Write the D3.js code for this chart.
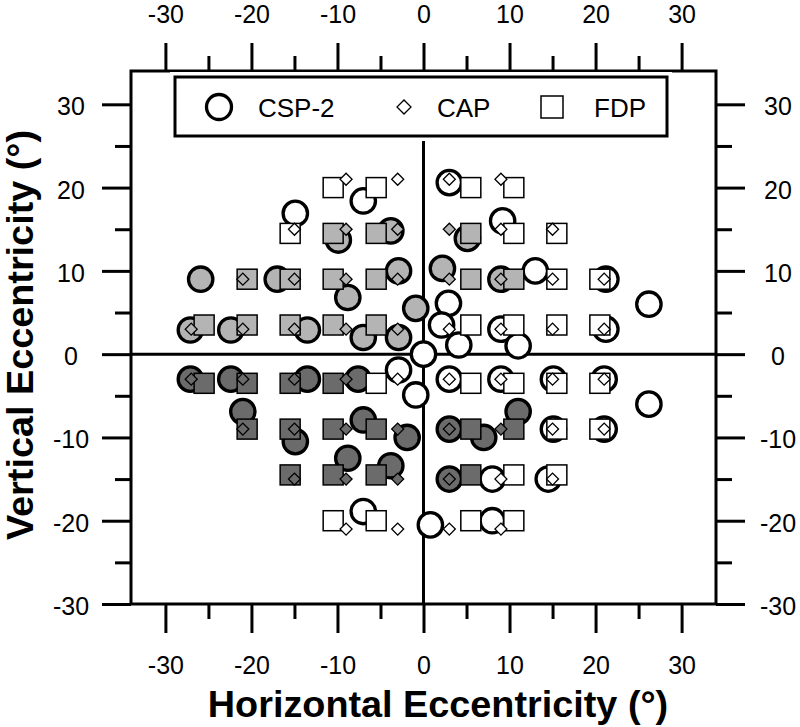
<!DOCTYPE html>
<html>
<head>
<meta charset="utf-8">
<script src="https://cdn.jsdelivr.net/npm/d3@7"></script>
<style>
  body { margin: 0; background: #fff; }
  svg { display: block; font-family: "Liberation Sans", Arial, sans-serif; }
</style>
</head>
<body>
<div id="chart"></div>
<script>
// axis ticks
const majorTicks = [-30, -20, -10, 0, 10, 20, 30];
const minorTicks = [-25, -15, -5, 5, 15, 25];

// fill groups: w = white, l = light grey, d = dark grey
const fillColors = { w: "#ffffff", l: "#b4b4b4", d: "#6b6b6b" };

// CSP-2 (circles): [x, y, fill group]
const cspPoints = [
  [-7, 18.4, "w"], [3, 20.6, "w"], [-14.9, 16.9, "w"], [9.2, 16, "w"],
  [-9.9, 13.7, "l"], [-3.8, 14.8, "l"], [5.1, 13.9, "l"],
  [-25.9, 9, "l"], [-17, 9, "l"], [-8.8, 6.8, "l"], [-2.9, 10, "l"], [2.2, 10.3, "l"], [9, 9, "l"],
  [13, 10, "w"], [21.2, 9, "w"], [-0.9, 5.5, "l"], [26.2, 6, "w"],
  [-27.1, 2.9, "l"], [-22.4, 2.9, "l"], [-13.5, 2.9, "l"], [-7, 2, "l"], [-2.9, 2, "l"],
  [2.9, 6.1, "w"], [2.1, 3.5, "w"], [4.1, 1.1, "w"], [9, 3, "w"], [11, 1, "w"], [21.2, 3, "w"], [0, 0, "w"],
  [-27.1, -3, "d"], [-22.4, -3, "d"], [-13.5, -3, "d"], [-7.6, -3, "d"],
  [-2.9, -1.9, "w"], [-0.9, -4.9, "w"], [3, -3, "w"], [9, -3, "w"], [15.1, -3, "w"], [21, -3, "w"], [26.2, -6, "w"],
  [-21, -6.9, "d"], [-14.9, -10.5, "d"], [-7, -7.9, "d"], [-1.9, -10, "d"], [3, -9, "d"], [7, -10, "d"], [11, -6.9, "d"],
  [15.1, -9, "w"], [21, -9, "w"],
  [-8.8, -12.5, "d"], [-3.8, -13.4, "d"], [3, -15, "d"], [8, -15, "w"], [14.5, -15, "w"],
  [-7, -18.9, "w"], [0.8, -20.5, "w"], [8, -20, "w"]
];

// CAP (diamonds)
const capPoints = [
  [-9, 21, "w"], [-3, 21, "w"], [3, 21, "w"], [9, 21, "w"],
  [-15, 15, "w"], [-9, 15, "l"], [-3, 15, "l"], [3, 15, "l"], [9, 15, "w"], [15, 15, "w"],
  [-21, 9, "l"], [-15, 9, "l"], [-9, 9, "l"], [-3, 9, "l"], [3, 9, "l"], [9, 9, "l"], [15, 9, "w"], [21, 9, "w"],
  [-27, 3, "l"], [-21, 3, "l"], [-15, 3, "l"], [-9, 3, "l"], [-3, 3, "l"], [3, 3, "w"], [9, 3, "w"], [15, 3, "w"], [21, 3, "w"],
  [-27, -3, "d"], [-21, -3, "d"], [-15, -3, "d"], [-9, -3, "d"], [-3, -3, "w"], [3, -3, "w"], [9, -3, "w"], [15, -3, "w"], [21, -3, "w"],
  [-21, -9, "d"], [-15, -9, "d"], [-9, -9, "d"], [-3, -9, "d"], [3, -9, "d"], [9, -9, "d"], [15, -9, "w"], [21, -9, "w"],
  [-15, -15, "d"], [-9, -15, "d"], [-3, -15, "d"], [3, -15, "d"], [9, -15, "w"], [15, -15, "w"],
  [-9, -21, "w"], [-3, -21, "w"], [3, -21, "w"], [9, -21, "w"]
];

// FDP (squares)
const fdpPoints = [
  [-10.5, 20, "w"], [-5.5, 20, "w"], [5.5, 20, "w"], [10.5, 20, "w"],
  [-15.5, 14.5, "w"], [-10.5, 14.5, "l"], [-5.5, 14.5, "l"], [5.5, 14.5, "l"], [10.5, 14.5, "w"], [15.5, 14.5, "w"],
  [-20.5, 9, "l"], [-15.5, 9, "l"], [-10.5, 9, "l"], [-5.5, 9, "l"], [5.5, 9, "l"], [10.5, 9, "l"], [15.5, 9, "w"], [20.5, 9, "w"],
  [-25.5, 3.5, "l"], [-20.5, 3.5, "l"], [-15.5, 3.5, "l"], [-10.5, 3.5, "l"], [-5.5, 3.5, "l"],
  [5.5, 3.5, "w"], [10.5, 3.5, "w"], [15.5, 3.5, "w"], [20.5, 3.5, "w"],
  [-25.5, -3.5, "d"], [-20.5, -3.5, "d"], [-15.5, -3.5, "d"], [-10.5, -3.5, "d"],
  [-5.5, -3.5, "w"], [5.5, -3.5, "w"], [10.5, -3.5, "w"], [15.5, -3.5, "w"], [20.5, -3.5, "w"],
  [-20.5, -9, "d"], [-15.5, -9, "d"], [-10.5, -9, "d"], [-5.5, -9, "d"], [5.5, -9, "d"], [10.5, -9, "d"], [15.5, -9, "w"], [20.5, -9, "w"],
  [-15.5, -14.5, "d"], [-10.5, -14.5, "d"], [-5.5, -14.5, "d"], [5.5, -14.5, "d"], [10.5, -14.5, "w"], [15.5, -14.5, "w"],
  [-10.5, -20, "w"], [-5.5, -20, "w"], [5.5, -20, "w"], [10.5, -20, "w"]
];

const legendLabels = ["CSP-2", "CAP", "FDP"];

const width = 800, height = 727;
const plotLeft = 131, plotRight = 716, plotTop = 71, plotBottom = 604;

let svg = d3.select("#chart").append("svg")
    .attr("width", width)
    .attr("height", height);

let x = d3.scaleLinear().domain([-34, 34]).range([plotLeft, plotRight]);
let y = d3.scaleLinear().domain([-30, 34]).range([plotBottom, plotTop]);

// plain hyphen for negatives, like the original
let fmt = d => String(d);

// axes, major ticks with labels + minor ticks without
function styleAxis(g) {
    g.select(".domain").remove();
    g.selectAll("line").attr("stroke", "#000").attr("stroke-width", 3);
    g.selectAll("text").attr("fill", "#000").style("font-size", "25px");
}

svg.append("g").attr("transform", `translate(0,${plotTop})`)
    .call(d3.axisTop(x).tickValues(majorTicks).tickSize(28).tickPadding(20).tickFormat(fmt))
    .call(styleAxis);
svg.append("g").attr("transform", `translate(0,${plotTop})`)
    .call(d3.axisTop(x).tickValues(minorTicks).tickSize(15).tickFormat(""))
    .call(styleAxis);

svg.append("g").attr("transform", `translate(0,${plotBottom})`)
    .call(d3.axisBottom(x).tickValues(majorTicks).tickSize(29).tickPadding(23).tickFormat(fmt))
    .call(styleAxis);
svg.append("g").attr("transform", `translate(0,${plotBottom})`)
    .call(d3.axisBottom(x).tickValues(minorTicks).tickSize(15).tickFormat(""))
    .call(styleAxis);

let yl = svg.append("g").attr("transform", `translate(${plotLeft},0)`)
    .call(d3.axisLeft(y).tickValues(majorTicks).tickSize(29).tickFormat(fmt))
    .call(styleAxis);
yl.selectAll("text").attr("x", -60).attr("text-anchor", "middle").attr("dy", "0.42em");
svg.append("g").attr("transform", `translate(${plotLeft},0)`)
    .call(d3.axisLeft(y).tickValues(minorTicks).tickSize(16).tickFormat(""))
    .call(styleAxis);

let yr = svg.append("g").attr("transform", `translate(${plotRight},0)`)
    .call(d3.axisRight(y).tickValues(majorTicks).tickSize(29).tickFormat(fmt))
    .call(styleAxis);
yr.selectAll("text").attr("x", 62).attr("text-anchor", "middle").attr("dy", "0.42em");
svg.append("g").attr("transform", `translate(${plotRight},0)`)
    .call(d3.axisRight(y).tickValues(minorTicks).tickSize(16).tickFormat(""))
    .call(styleAxis);

// frame
svg.append("rect")
    .attr("x", plotLeft).attr("y", plotTop)
    .attr("width", plotRight - plotLeft).attr("height", plotBottom - plotTop)
    .attr("fill", "none").attr("stroke", "#000").attr("stroke-width", 3);

// zero lines
svg.append("line")
    .attr("x1", plotLeft).attr("x2", plotRight)
    .attr("y1", y(0)).attr("y2", y(0))
    .attr("stroke", "#000").attr("stroke-width", 3);
svg.append("line")
    .attr("x1", x(0)).attr("x2", x(0))
    .attr("y1", plotTop).attr("y2", plotBottom)
    .attr("stroke", "#000").attr("stroke-width", 3);

// markers: circles, then squares, then diamonds
svg.append("g").selectAll("circle")
    .data(cspPoints)
    .enter().append("circle")
    .attr("cx", d => x(d[0]))
    .attr("cy", d => y(d[1]))
    .attr("r", 12.2)
    .attr("fill", d => fillColors[d[2]])
    .attr("stroke", "#000")
    .attr("stroke-width", 3.3);

let sq = 20;
svg.append("g").selectAll("rect")
    .data(fdpPoints)
    .enter().append("rect")
    .attr("x", d => x(d[0]) - sq / 2)
    .attr("y", d => y(d[1]) - sq / 2)
    .attr("width", sq).attr("height", sq)
    .attr("fill", d => fillColors[d[2]])
    .attr("stroke", "#000")
    .attr("stroke-width", 1.5);

let diamond = d3.symbol().type(d3.symbolSquare).size(72);
svg.append("g").selectAll("path")
    .data(capPoints)
    .enter().append("path")
    .attr("d", diamond)
    .attr("transform", d => `translate(${x(d[0])},${y(d[1])}) rotate(45)`)
    .attr("fill", d => fillColors[d[2]])
    .attr("stroke", "#000")
    .attr("stroke-width", 1.3);

// legend
let legend = svg.append("g");
legend.append("rect")
    .attr("x", 175).attr("y", 77).attr("width", 492).attr("height", 59)
    .attr("fill", "#fff").attr("stroke", "#fff").attr("stroke-width", 10);
legend.append("rect")
    .attr("x", 175).attr("y", 77).attr("width", 492).attr("height", 59)
    .attr("fill", "#fff").attr("stroke", "#000").attr("stroke-width", 3);

let ly = 107;
legend.append("circle")
    .attr("cx", 219).attr("cy", ly).attr("r", 12.5)
    .attr("fill", "#fff").attr("stroke", "#000").attr("stroke-width", 3.3);
legend.append("path")
    .attr("d", d3.symbol().type(d3.symbolSquare).size(98))
    .attr("transform", `translate(404,${ly}) rotate(45)`)
    .attr("fill", "#fff").attr("stroke", "#000").attr("stroke-width", 1.3);
legend.append("rect")
    .attr("x", 552 - 11).attr("y", ly - 11).attr("width", 22).attr("height", 22)
    .attr("fill", "#fff").attr("stroke", "#000").attr("stroke-width", 1.5);

let labelX = [258, 437, 594];
legend.selectAll("text.lab")
    .data(legendLabels)
    .enter().append("text")
    .attr("class", "lab")
    .attr("x", (d, i) => labelX[i])
    .attr("y", 117)
    .style("font-size", "26px")
    .text(d => d);

// axis titles
svg.append("text")
    .attr("x", 438).attr("y", 717)
    .attr("text-anchor", "middle")
    .style("font-size", "37.8px").style("font-weight", "bold")
    .text("Horizontal Eccentricity (°)");

svg.append("text")
    .attr("transform", "translate(33,335) rotate(-90)")
    .attr("text-anchor", "middle")
    .style("font-size", "37.8px").style("font-weight", "bold")
    .text("Vertical Eccentricity (°)");
</script>
</body>
</html>
